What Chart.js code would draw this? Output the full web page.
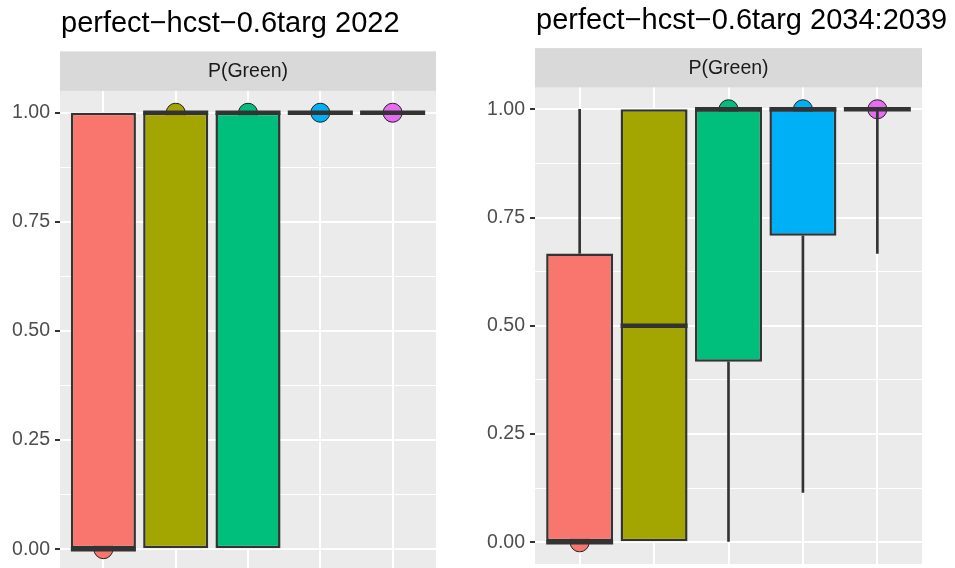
<!DOCTYPE html>
<html>
<head>
<meta charset="utf-8">
<script src="https://cdn.jsdelivr.net/npm/chart.js@4/dist/chart.umd.min.js"></script>
<style>
  html, body { margin: 0; padding: 0; background: #ffffff; width: 955px; height: 568px; overflow: hidden; }
  canvas { position: absolute; top: 0; }
</style>
</head>
<body>
<canvas id="chart2022" width="440" height="571" style="left:0px"></canvas>
<canvas id="chart2034" width="480" height="564" style="left:475px"></canvas>
<script>
// Groups along the x axis and their fill colours
const groups = [1, 2, 3, 4, 5];
const fills = ['#F8766D', '#A3A500', '#00BF7D', '#00B0F6', '#E76BF3'];

// Y axis: major ticks are labelled, the in-between values carry minor grid lines
const yTicks = [0, 0.125, 0.25, 0.375, 0.5, 0.625, 0.75, 0.875, 1];
const yMajor = [0, 0.25, 0.5, 0.75, 1];

// Year 2022: whisker ends, quartiles and medians of P(Green)
const lo2022  = [0, 0, 0, 1, 1];
const q1_2022 = [0, 0, 0, 1, 1];
const med2022 = [0, 1, 1, 1, 1];
const q3_2022 = [1, 1, 1, 1, 1];
const hi2022  = [1, 1, 1, 1, 1];

// Years 2034:2039
const lo2034  = [0, 0, 0, 0.115, 0.667];
const q1_2034 = [0, 0, 0.417, 0.708, 1];
const med2034 = [0, 0.5, 1, 1, 1];
const q3_2034 = [0.667, 1, 1, 1, 1];
const hi2034  = [1, 1, 1, 1, 1];

const FONT = '"Liberation Sans", Arial, Helvetica, sans-serif';
Chart.defaults.font.family = FONT;

// Panel background, facet strip and left-aligned title, placed from the chart area
const panelDecor = {
  id: 'panelDecor',
  beforeDraw(chart, args, opts) {
    const { ctx, chartArea: a } = chart;
    const stripTop = a.top - opts.stripHeight;
    ctx.save();
    ctx.fillStyle = '#EBEBEB';
    ctx.fillRect(a.left, a.top, a.right - a.left, a.bottom - a.top);
    ctx.fillStyle = '#D9D9D9';
    ctx.fillRect(a.left, stripTop, a.right - a.left, opts.stripHeight);
    ctx.fillStyle = '#1A1A1A';
    ctx.font = '19.5px ' + FONT;
    ctx.textAlign = 'center';
    ctx.textBaseline = 'alphabetic';
    ctx.fillText(opts.strip, (a.left + a.right) / 2, stripTop + 26);
    ctx.fillStyle = '#000000';
    ctx.font = '29px ' + FONT;
    ctx.textAlign = 'left';
    ctx.fillText(opts.title, a.left + 1, stripTop - 19);
    ctx.restore();
  }
};

// Half of a box's width (0.9 of a group slot), in pixels
function halfBox(ctx) {
  const s = ctx.chart.scales.x;
  return Math.abs(s.getPixelForValue(0.45) - s.getPixelForValue(0));
}

function buildPanel(id, title, lo, q1, med, q3, hi, padTop, padRight) {
  const points = arr => groups.map((g, i) => ({ x: g, y: arr[i] }));
  const spans = (a, b) => groups
    .map((g, i) => (a[i] === b[i] ? null : { x: g, y: [a[i], b[i]] }))
    .filter(Boolean);

  const datasets = [
    {
      // median dots, sitting behind the boxes
      type: 'line', showLine: false, order: 4,
      data: points(med),
      pointRadius: 9.5,
      pointBackgroundColor: fills,
      pointBorderColor: '#222222',
      pointBorderWidth: 1
    },
    {
      // lower whiskers
      type: 'bar', grouped: false, order: 3,
      data: spans(lo, q1),
      barThickness: 2,
      backgroundColor: '#333333',
      borderWidth: 0
    },
    {
      // upper whiskers
      type: 'bar', grouped: false, order: 3,
      data: spans(q3, hi),
      barThickness: 2,
      backgroundColor: '#333333',
      borderWidth: 0
    },
    {
      // interquartile boxes
      type: 'bar', grouped: false, order: 2,
      data: spans(q1, q3),
      categoryPercentage: 1,
      barPercentage: 0.9,
      backgroundColor: c => fills[groups.indexOf(c.raw.x)],
      borderColor: '#333333',
      borderWidth: 2.5,
      borderSkipped: false
    },
    {
      // median bars
      type: 'line', showLine: false, order: 1,
      data: points(med),
      pointStyle: 'line',
      pointRadius: halfBox,
      pointBorderColor: '#333333',
      pointBorderWidth: 4.5
    }
  ];

  return new Chart(document.getElementById(id), {
    type: 'bar',
    data: { datasets },
    plugins: [panelDecor],
    options: {
      responsive: false,
      animation: false,
      events: [],
      layout: { autoPadding: false, padding: { top: padTop, right: padRight, bottom: 0, left: 0 } },
      plugins: {
        legend: { display: false },
        tooltip: { enabled: false },
        title: { display: false },
        panelDecor: { title: title, strip: 'P(Green)', stripHeight: 39.5 }
      },
      scales: {
        x: {
          type: 'linear', min: 0.4, max: 5.6,
          offset: false,
          afterBuildTicks: s => { s.ticks = groups.map(v => ({ value: v })); },
          afterFit: s => { s.height = 0; s.paddingLeft = 0; s.paddingRight = 0; },
          ticks: { display: false },
          grid: { color: '#FFFFFF', lineWidth: 2, drawTicks: false, offset: false },
          border: { display: false }
        },
        y: {
          type: 'linear', min: -0.05, max: 1.05,
          afterBuildTicks: s => { s.ticks = yTicks.map(v => ({ value: v })); },
          afterFit: s => { s.width = 60; s.paddingTop = 0; s.paddingBottom = 0; },
          ticks: {
            autoSkip: false,
            padding: 5,
            color: '#4D4D4D',
            font: { size: 19.5 },
            callback: v => (yMajor.includes(v) ? v.toFixed(2) : '')
          },
          grid: {
            color: '#FFFFFF',
            lineWidth: c => (yMajor.includes(c.tick.value) ? 2 : 1),
            tickColor: c => (yMajor.includes(c.tick.value) ? '#333333' : 'rgba(0,0,0,0)'),
            tickLength: 5,
            tickWidth: 2
          },
          border: { display: false }
        }
      }
    }
  });
}

buildPanel('chart2022', 'perfect\u2212hcst\u22120.6targ 2022',
  lo2022, q1_2022, med2022, q3_2022, hi2022, 90.9, 4);
buildPanel('chart2034', 'perfect\u2212hcst\u22120.6targ 2034:2039',
  lo2034, q1_2034, med2034, q3_2034, hi2034, 87.6, 33);
</script>
</body>
</html>
